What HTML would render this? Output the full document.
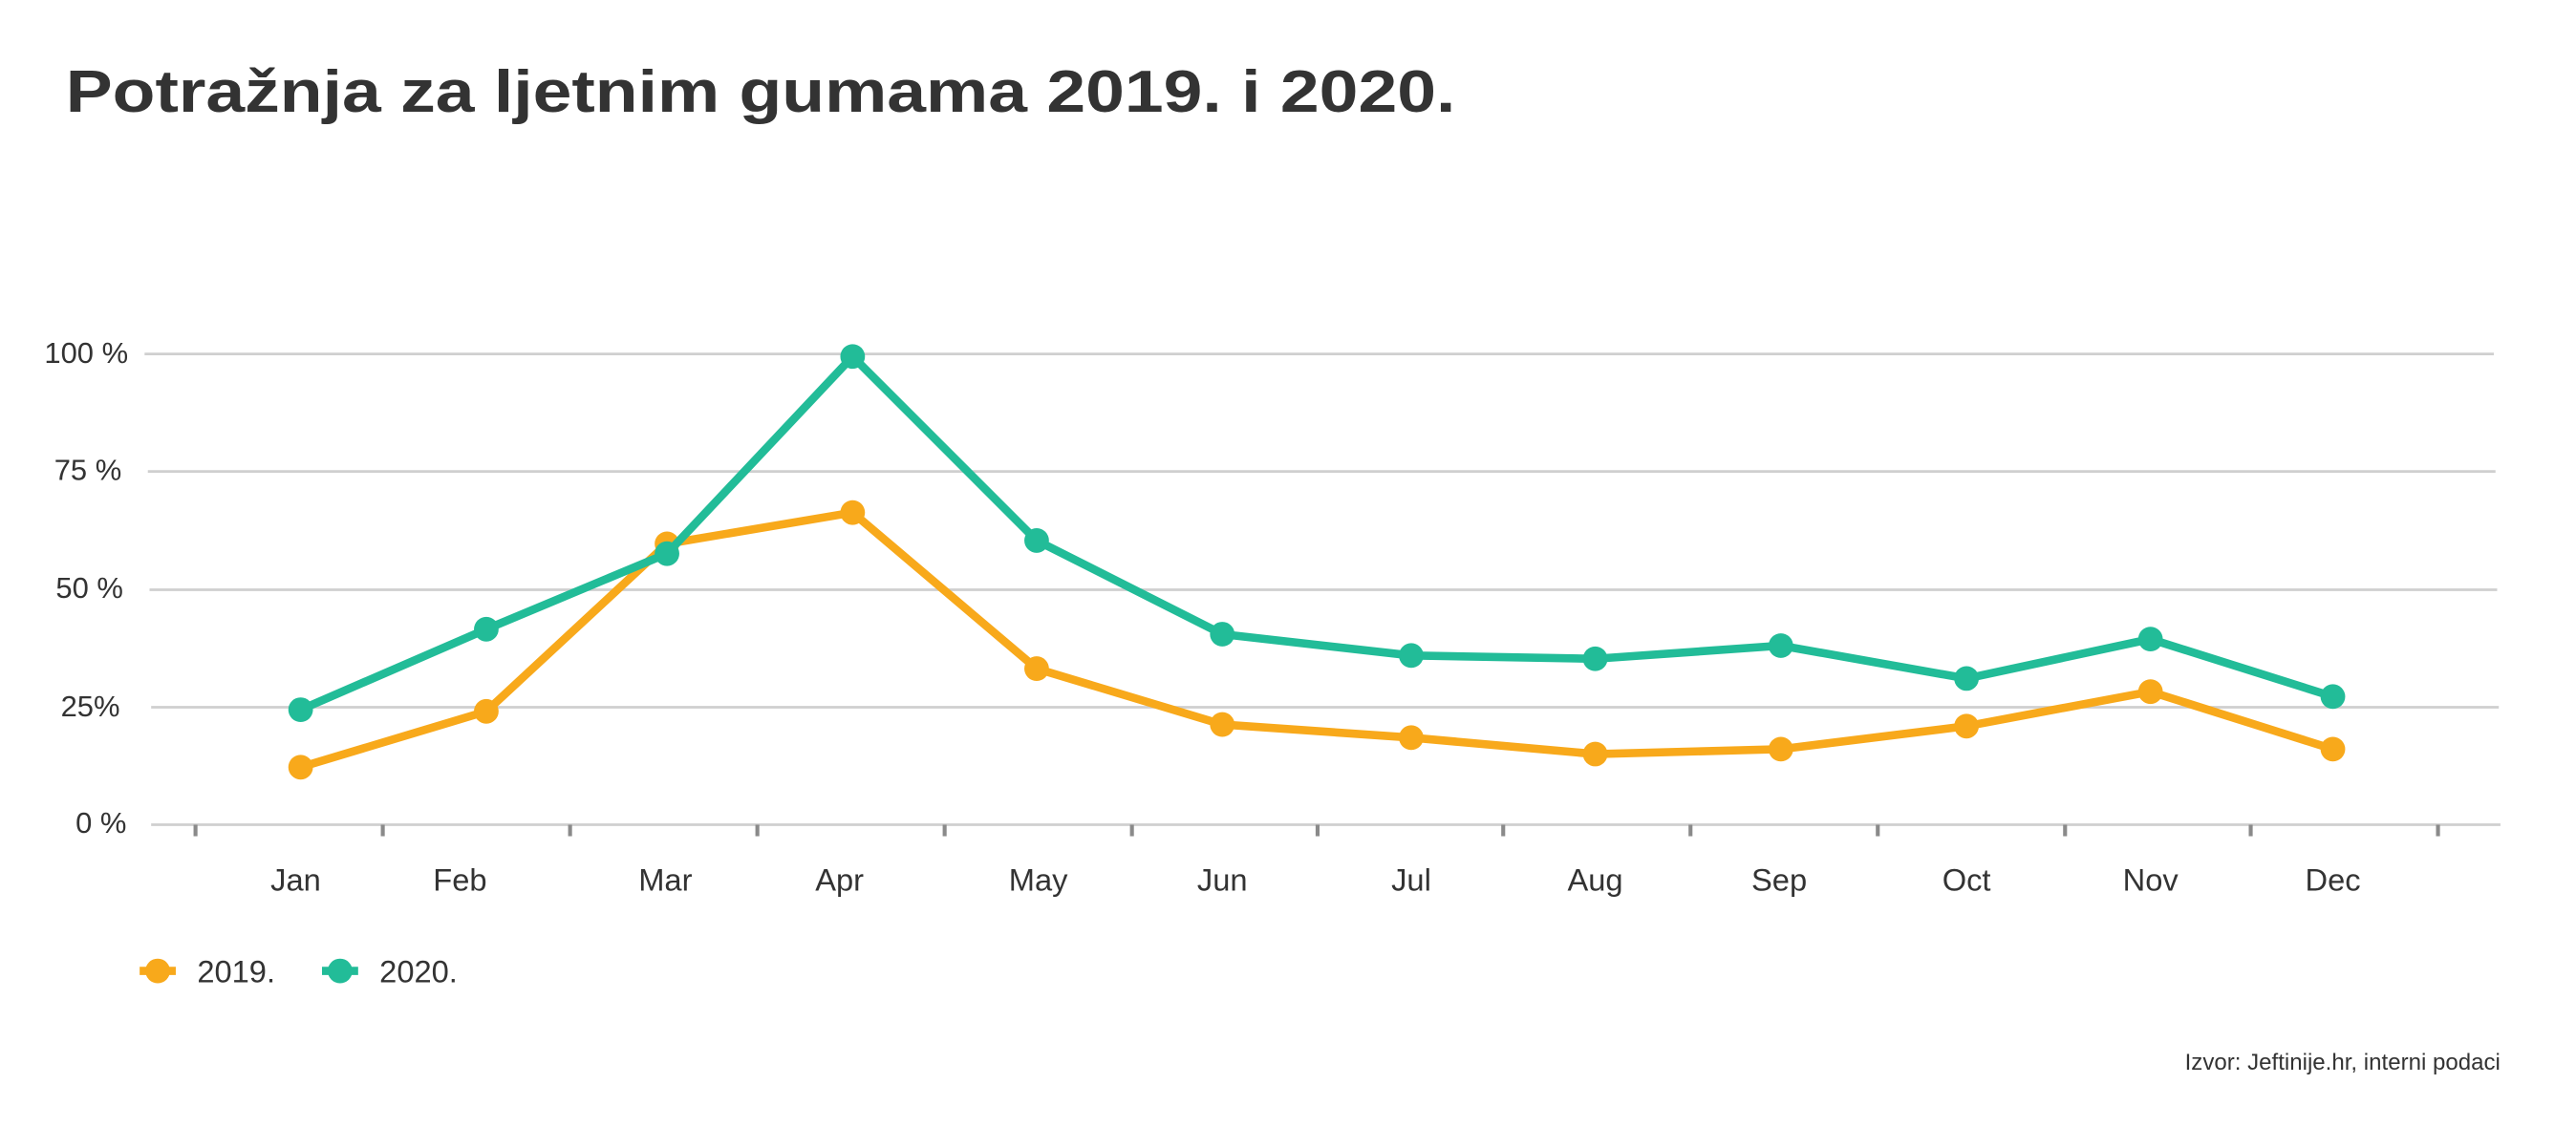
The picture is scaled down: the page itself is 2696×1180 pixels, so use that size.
<!DOCTYPE html>
<html><head><meta charset="utf-8"><style>html,body{margin:0;padding:0;background:#fff}svg{display:block}</style></head>
<body>
<svg width="2696" height="1180" viewBox="0 0 1568 686" preserveAspectRatio="none" xmlns="http://www.w3.org/2000/svg" font-family="'Liberation Sans', sans-serif">
<rect width="1568" height="686" fill="#fff"/>
<text x="40" y="68" font-size="36" font-weight="bold" fill="#333" textLength="846" lengthAdjust="spacingAndGlyphs">Potražnja za ljetnim gumama 2019. i 2020.</text>
<g stroke="#cfcfcf" stroke-width="1.6">
<line x1="88" y1="215.5" x2="1518" y2="215.5"/>
<line x1="90" y1="287" x2="1519" y2="287"/>
<line x1="91" y1="359" x2="1520" y2="359"/>
<line x1="92" y1="430.5" x2="1521" y2="430.5"/>
<line x1="92" y1="502" x2="1522" y2="502"/>
</g>
<g stroke="#8a8a8a" stroke-width="2.4">
<line x1="119" y1="502" x2="119" y2="509"/><line x1="233" y1="502" x2="233" y2="509"/><line x1="347" y1="502" x2="347" y2="509"/><line x1="461" y1="502" x2="461" y2="509"/><line x1="575" y1="502" x2="575" y2="509"/><line x1="689" y1="502" x2="689" y2="509"/><line x1="802" y1="502" x2="802" y2="509"/><line x1="915" y1="502" x2="915" y2="509"/><line x1="1029" y1="502" x2="1029" y2="509"/><line x1="1143" y1="502" x2="1143" y2="509"/><line x1="1257" y1="502" x2="1257" y2="509"/><line x1="1370" y1="502" x2="1370" y2="509"/><line x1="1484" y1="502" x2="1484" y2="509"/>
</g>
<g font-size="18" fill="#333" text-anchor="end">
<text x="78" y="221">100 %</text><text x="74" y="292">75 %</text><text x="75" y="364">50 %</text><text x="73" y="436">25%</text><text x="77" y="507">0 %</text>
</g>
<g font-size="19" fill="#333" text-anchor="middle">
<text x="180" y="542">Jan</text><text x="280" y="542">Feb</text><text x="405" y="542">Mar</text><text x="511" y="542">Apr</text><text x="632" y="542">May</text><text x="744" y="542">Jun</text><text x="859" y="542">Jul</text><text x="971" y="542">Aug</text><text x="1083" y="542">Sep</text><text x="1197" y="542">Oct</text><text x="1309" y="542">Nov</text><text x="1420" y="542">Dec</text>
</g>
<polyline fill="none" stroke="#F8A91B" stroke-width="5" stroke-linejoin="round" points="183,467 296,433 406,331 519,312 631,407 744,441 859,449 971,459 1084,456 1197,442 1309,421 1420,456"/>
<g fill="#F8A91B">
<circle cx="183" cy="467" r="7.5"/><circle cx="296" cy="433" r="7.5"/><circle cx="406" cy="331" r="7.5"/><circle cx="519" cy="312" r="7.5"/><circle cx="631" cy="407" r="7.5"/><circle cx="744" cy="441" r="7.5"/><circle cx="859" cy="449" r="7.5"/><circle cx="971" cy="459" r="7.5"/><circle cx="1084" cy="456" r="7.5"/><circle cx="1197" cy="442" r="7.5"/><circle cx="1309" cy="421" r="7.5"/><circle cx="1420" cy="456" r="7.5"/>
</g>
<polyline fill="none" stroke="#22BC98" stroke-width="5" stroke-linejoin="round" points="183,432 296,383 406,337 519,217 631,329 744,386 859,399 971,401 1084,393 1197,413 1309,389 1420,424"/>
<g fill="#22BC98">
<circle cx="183" cy="432" r="7.5"/><circle cx="296" cy="383" r="7.5"/><circle cx="406" cy="337" r="7.5"/><circle cx="519" cy="217" r="7.5"/><circle cx="631" cy="329" r="7.5"/><circle cx="744" cy="386" r="7.5"/><circle cx="859" cy="399" r="7.5"/><circle cx="971" cy="401" r="7.5"/><circle cx="1084" cy="393" r="7.5"/><circle cx="1197" cy="413" r="7.5"/><circle cx="1309" cy="389" r="7.5"/><circle cx="1420" cy="424" r="7.5"/>
</g>
<line x1="85" y1="591" x2="107" y2="591" stroke="#F8A91B" stroke-width="5"/><circle cx="96" cy="591" r="7.5" fill="#F8A91B"/>
<text x="120" y="598" font-size="19" fill="#333">2019.</text>
<line x1="196" y1="591" x2="218" y2="591" stroke="#22BC98" stroke-width="5"/><circle cx="207" cy="591" r="7.5" fill="#22BC98"/>
<text x="231" y="598" font-size="19" fill="#333">2020.</text>
<text x="1522" y="651" font-size="14" fill="#333" text-anchor="end">Izvor: Jeftinije.hr, interni podaci</text>
</svg>
</body></html>
